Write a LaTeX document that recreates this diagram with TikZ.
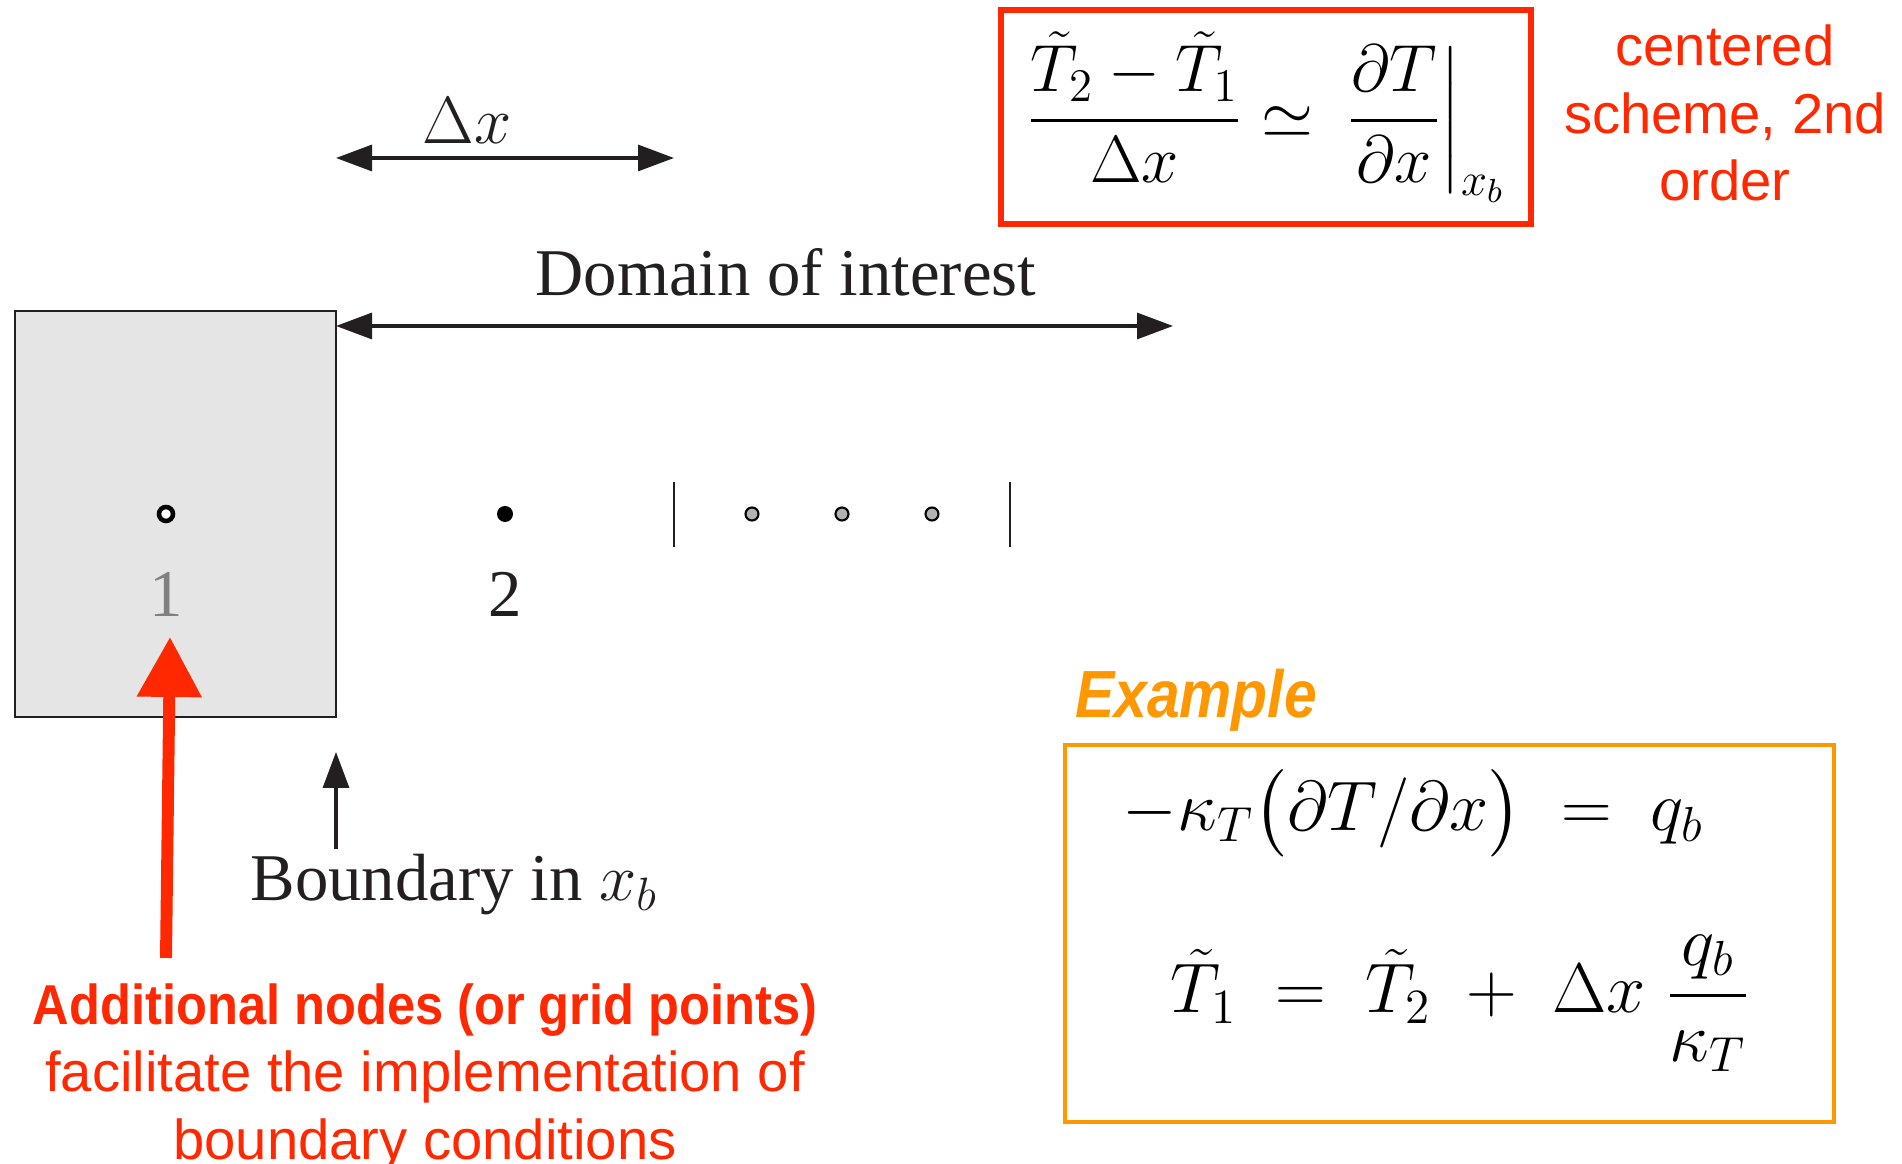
\RequirePackage{fix-cm}
\documentclass[tikz,border=0pt]{standalone}
\usepackage{amsmath}
\usepackage{fontspec}
\setmainfont{Liberation Serif}
\newfontfamily\notefont{Liberation Sans}
\usetikzlibrary{arrows.meta,positioning}

\definecolor{notered}{RGB}{255,40,0}
\definecolor{noteorange}{RGB}{255,152,0}
\definecolor{ghostgray}{RGB}{229,229,229}
\definecolor{inkgray}{RGB}{35,31,32}

\newcommand{\bigtext}{\fontsize{19}{23}\selectfont}
\newcommand{\eqtext}{\fontsize{20}{24}\selectfont}
\newcommand{\notesize}{\fontsize{16}{19.2}\selectfont}

\tikzset{
  dimarrow/.style={{Triangle[length=0.36cm,width=0.26cm]}-{Triangle[length=0.36cm,width=0.26cm]}, line width=0.9pt, inkgray},
  uparrow/.style={-{Triangle[length=0.36cm,width=0.26cm]}, line width=0.9pt, inkgray},
  redarrow/.style={-{Triangle[length=0.6cm,width=0.62cm]}, line width=3.4pt, notered},
  ghostbox/.style={draw=inkgray, fill=ghostgray, line width=0.8pt, minimum width=3.21cm, minimum height=4.06cm, inner sep=0pt},
  opendot/.style={circle, draw=black, fill=white, line width=1.3pt, minimum size=0.14cm, inner sep=0pt},
  fulldot/.style={circle, fill=black, minimum size=0.16cm, inner sep=0pt},
  graydot/.style={circle, draw=black, fill=black!30, line width=0.6pt, minimum size=0.13cm, inner sep=0pt},
  gridbar/.style={line width=0.8pt, inkgray},
  eqbox/.style={draw=notered, line width=1.6pt, minimum width=5.3cm, minimum height=2.14cm, inner sep=0pt},
  exbox/.style={draw=noteorange, line width=1.4pt, minimum width=7.69cm, minimum height=3.77cm, inner sep=0pt},
  notetext/.style={font=\notefont\notesize, text=notered, align=center, inner sep=0pt},
  bigtext/.style={font=\bigtext, text=inkgray, inner sep=0pt}
}

\begin{document}
\begin{tikzpicture}
  \useasboundingbox (0,0) rectangle (19.02,11.64);

  % ghost cell and grid points
  \node[ghostbox] (ghost) at (1.755,6.50) {};
  \foreach \x in {3.36,6.74,10.10}
    \draw[gridbar] (\x,6.17) -- (\x,6.82);
  \node[opendot] (p1) at (1.66,6.50) {};
  \node[fulldot] (p2) at (5.05,6.50) {};
  \foreach \x [count=\i] in {7.52,8.42,9.32}
    \node[graydot] (q\i) at (\x,6.50) {};
  \node[bigtext, text=black!50] (lab1) at (1.66,5.70) {1};
  \node[bigtext] (lab2) at (5.05,5.70) {2};

  % spacing and domain
  \coordinate (dxL) at (3.36,10.06);
  \coordinate (dxR) at (6.74,10.06);
  \draw[dimarrow] (dxL) -- (dxR);
  \node[bigtext] (dxlab) at (4.67,10.43) {$\Delta x$};
  \coordinate (domL) at (3.36,8.38);
  \coordinate (domR) at (11.73,8.38);
  \draw[dimarrow] (domL) -- (domR);
  \node[bigtext] (domain) at (7.86,8.92) {Domain of interest};

  % boundary
  \node[bigtext] (bdlab) at (4.54,2.79) {Boundary in $x_b$};
  \coordinate (bdfoot) at (3.36,3.15);
  \coordinate (bdtip) at (3.36,4.12);
  \draw[uparrow] (bdfoot) -- (bdtip);

  % additional nodes note
  \node[notetext] (addnote) at (4.25,0.87)
    {\scalebox{0.9}[1]{\bfseries Additional nodes (or grid points)}\\
     facilitate the implementation of\\
     boundary conditions};
  \coordinate (redfoot) at (1.66,2.06);
  \coordinate (redtip) at (1.70,5.27);
  \draw[redarrow] (redfoot) -- (redtip);

  % centered scheme
  \node[eqbox, font=\bigtext] (topeq) at (12.66,10.47)
    {$\displaystyle \frac{\tilde T_2-\tilde T_1}{\Delta x}\simeq\,
      \left.\frac{\partial T}{\partial x}\right|_{x_b}$};
  \node[notetext] (scheme) at (17.25,10.51) {centered\\scheme, 2nd\\order};

  % example
  \node[font=\notefont\fontsize{19}{23}\selectfont\bfseries\itshape, text=noteorange, inner sep=0pt]
    (exlab) at (11.96,4.64) {\scalebox{0.88}[1]{Example}};
  \node[exbox] (exbox) at (14.495,2.305) {};
  \node[font=\eqtext, anchor=base west, inner sep=0pt] (eqa) at (11.22,3.33)
    {$-\kappa_T\bigl(\partial T/\partial x\bigr)\;=\; q_b$};
  \node[font=\eqtext, anchor=base west, inner sep=0pt] (eqb) at (11.70,1.51)
    {$\tilde T_1\;=\;\tilde T_2\;+\;\Delta x\;\dfrac{q_b}{\kappa_T}$};
\end{tikzpicture}
\end{document}
